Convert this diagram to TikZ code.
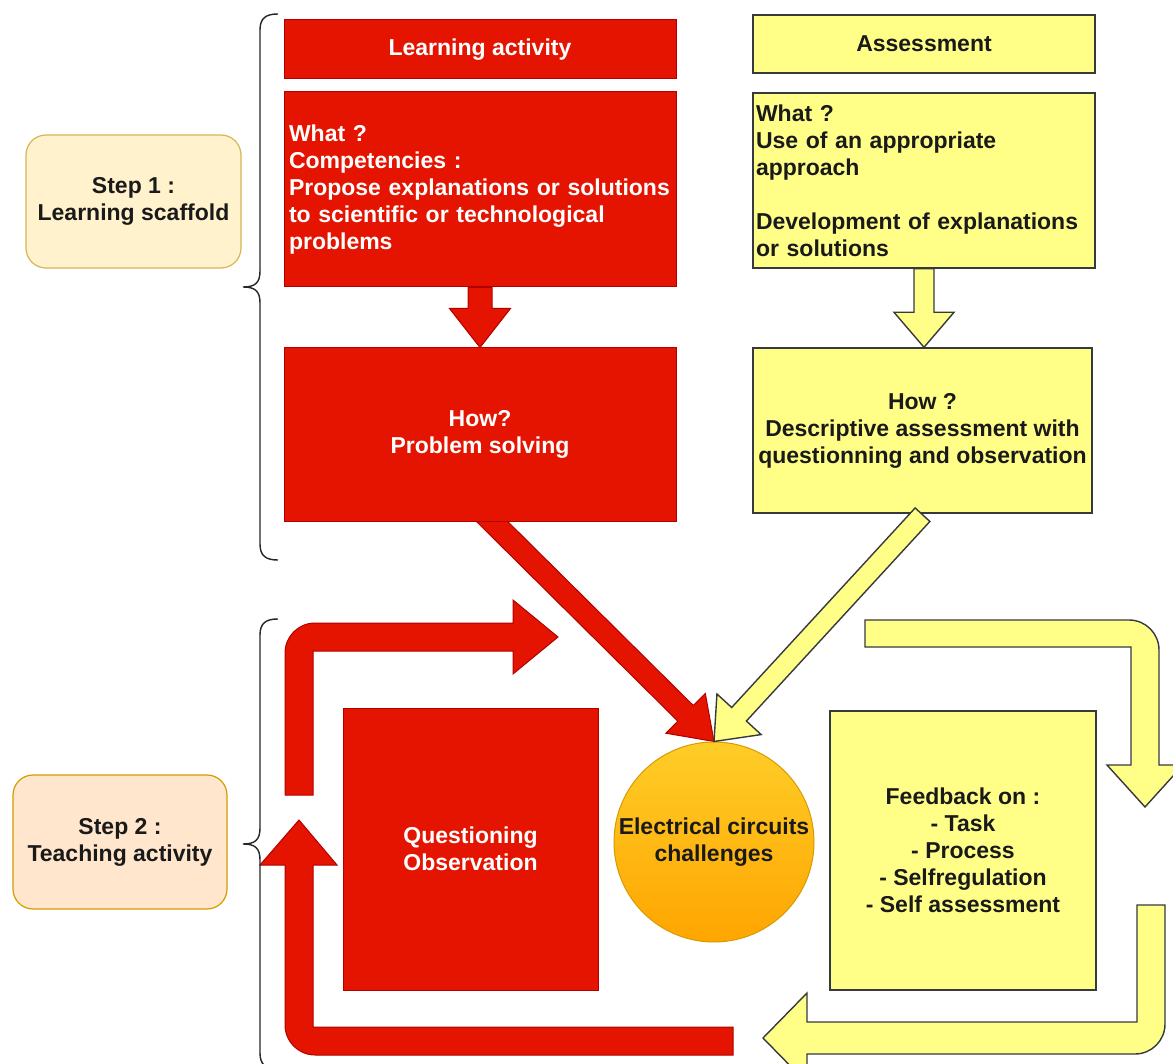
\documentclass[tikz,border=0pt]{standalone}
\usepackage{fontspec}
\setmainfont{Liberation Sans}
\usetikzlibrary{calc}
\pgfdeclarelayer{bg}
\pgfsetlayers{bg,main}
\definecolor{redf}{HTML}{E51400}
\definecolor{reds}{HTML}{B20000}
\definecolor{yelf}{HTML}{FFFF88}
\definecolor{yels}{HTML}{36393D}
\definecolor{s1f}{HTML}{FFF2CC}
\definecolor{s1s}{HTML}{D6B656}
\definecolor{s2f}{HTML}{FFE6CC}
\definecolor{s2s}{HTML}{D79B00}
\definecolor{ctop}{HTML}{FFCD28}
\definecolor{cbot}{HTML}{FFA500}
\definecolor{txt}{HTML}{1A1A1A}
\tikzset{
  base/.style={font=\fontsize{23}{27}\selectfont\bfseries, inner sep=0pt, line width=1pt},
  redbox/.style={base, rectangle, fill=redf, draw=reds, text=white},
  yelbox/.style={base, rectangle, fill=yelf, draw=yels, text=txt, line width=1.4pt},
  stepbox/.style={base, rectangle, rounded corners=20pt, text=txt, align=center, line width=1.2pt},
  redarrow/.style={fill=redf, draw=reds, line width=1pt, line join=miter},
  yelarrow/.style={fill=yelf, draw=yels, line width=1.4pt, line join=miter},
  bracestyle/.style={draw=black!85, line width=1.4pt}
}
% #1 start, #2 end, #3 shaft half width, #4 head half width, #5 head length, #6 style
\newcommand\fatarrow[6]{%
  \path ($(#2)!#5!(#1)$) coordinate (faB);
  \path[#6] ($(#1)!#3!90:(#2)$) -- ($(faB)!#3!90:(#2)$) -- ($(faB)!#4!90:(#2)$)
    -- (#2) -- ($(faB)!#4!-90:(#2)$) -- ($(faB)!#3!-90:(#2)$)
    -- ($(#1)!#3!-90:(#2)$) -- cycle;
}
\begin{document}
\begin{tikzpicture}[x=1pt,y=-1pt]
\useasboundingbox (0,0) rectangle (1173,1064);

% ---------- nodes ----------
\node[stepbox, fill=s1f, draw=s1s, minimum width=215pt, minimum height=133pt] (step1) at (133.5,201.5) {Step 1 :\\Learning scaffold};
\node[stepbox, fill=s2f, draw=s2s, minimum width=214pt, minimum height=134pt] (step2) at (120,842) {Step 2 :\\Teaching activity};

\node[redbox, minimum width=392pt, minimum height=59pt] (la) at (480,49.5) {Learning activity};
\node[redbox, minimum height=195pt, text width=382pt, inner xsep=5pt, align=left] (lwhat) at (480,189.5)
  {What ?\\Competencies :\\Propose explanations or solutions\\to scientific or technological\\problems};
\node[redbox, minimum width=392pt, minimum height=173pt, align=center] (lhow) at (480,434.5) {How?\\Problem solving};

\node[yelbox, minimum width=342pt, minimum height=58pt] (as) at (924,44) {Assessment};
\node[yelbox, minimum height=175pt, text width=336pt, inner xsep=3pt, align=left] (awhat) at (924,180.5)
  {What ?\\Use of an appropriate\\approach\\\mbox{}\\Development of explanations\\or solutions};
\node[yelbox, minimum width=339pt, minimum height=165pt, align=center] (ahow) at (922.5,430.5)
  {How ?\\Descriptive assessment with\\questionning and observation};

\node[redbox, minimum width=255pt, minimum height=282pt, align=center] (qo) at (470.5,849) {Questioning\\Observation};
\node[base, circle, minimum size=200pt, draw=s2s, top color=ctop, bottom color=cbot, text=txt, align=center] (circ) at (714,842)
  {Electrical circuits\\challenges};
\node[yelbox, minimum width=266pt, minimum height=279pt, align=center] (fb) at (963,850.5)
  {Feedback on :\\- Task\\- Process\\- Selfregulation\\- Self assessment};

% ---------- arrows behind boxes ----------
\begin{pgfonlayer}{bg}
  \fill[white] (0,0) rectangle (1173,1064);
  \fatarrow{lwhat.south}{lhow.north}{12pt}{30.5pt}{39pt}{redarrow}
  \coordinate (ydtop) at (awhat.south -| 924,0);
  \coordinate (ydbot) at (ahow.north -| 924,0);
  \fatarrow{ydtop}{ydbot}{10pt}{30pt}{35pt}{yelarrow}
  \coordinate (rd0) at ($(lhow.south)+(4,-8)$);
  \fatarrow{rd0}{circ.north}{11pt}{28pt}{40pt}{redarrow}
\end{pgfonlayer}

% ---------- arrows on top ----------
\coordinate (yd0) at ($(ahow.south)+(0,1)$);
\fatarrow{yd0}{circ.north}{10pt}{30pt}{37pt}{yelarrow}

% red loop: top arrow
\path[redarrow] (285,795) -- (285,653) .. controls (285,636.4) and (298.4,623) .. (315,623)
  -- (513,623) -- (513,600) -- (558,637) -- (513,674) -- (513,651) -- (313,651) -- (313,795) -- cycle;
% red loop: bottom and up arrow
\path[redarrow] (733,1027) -- (313,1027) -- (313,865) -- (337,865) -- (299,820) -- (260,865) -- (285,865)
  -- (285,1025) .. controls (285,1041.6) and (298.4,1055) .. (315,1055) -- (733,1055) -- cycle;

% yellow loop: top-right arrow
\path[yelarrow] (865,620) -- (1129,620) .. controls (1145.6,620) and (1159,633.4) .. (1159,650)
  -- (1159,765) -- (1183,765) -- (1145,807) -- (1107,765) -- (1131,765) -- (1131,647) -- (865,647) -- cycle;
% yellow loop: bottom arrow
\path[yelarrow] (1137,905) -- (1165,905) -- (1165,1024) .. controls (1165,1040.6) and (1151.6,1054) .. (1135,1054)
  -- (807,1054) -- (807,1083) -- (763,1038) -- (807,993) -- (807,1022) -- (1137,1022) -- cycle;

% ---------- braces ----------
\coordinate (b1tip) at (243,287);
\path[bracestyle] (278,14) .. controls (266,14) and (260,18) .. (260,30) -- (260,271)
  .. controls (260,283) and (255,287) .. (b1tip) .. controls (255,287) and (260,291) .. (260,303)
  -- (260,544) .. controls (260,556) and (266,560) .. (278,560);
\coordinate (b2tip) at (243,844);
\path[bracestyle] (278,619) .. controls (266,619) and (260,623) .. (260,635) -- (260,828)
  .. controls (260,840) and (255,844) .. (b2tip) .. controls (255,844) and (260,848) .. (260,860)
  -- (260,1053) .. controls (260,1065) and (266,1069) .. (278,1069);
\end{tikzpicture}
\end{document}
